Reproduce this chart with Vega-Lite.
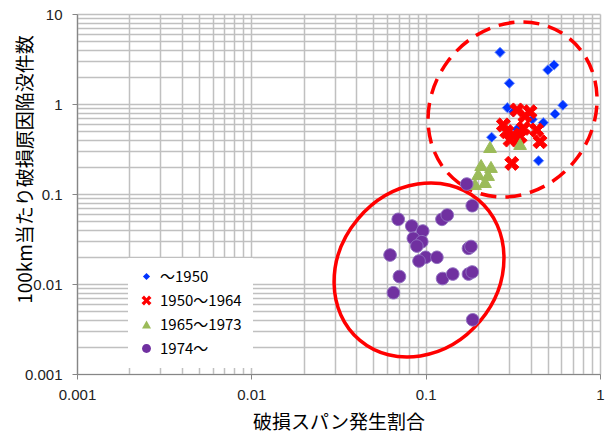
{
  "$schema": "https://vega.github.io/schema/vega-lite/v6.json",
  "width": 523,
  "height": 360,
  "autosize": {"type": "none"},
  "padding": {"left": 77, "top": 14, "right": 6, "bottom": 60},
  "background": "white",
  "config": {
    "view": {"stroke": null},
    "font": "Noto Sans CJK JP"
  },
  "datasets": {
    "pts": [
      {"x": 0.267, "y": 3.75, "series": "～1950"},
      {"x": 0.502, "y": 2.39, "series": "～1950"},
      {"x": 0.545, "y": 2.71, "series": "～1950"},
      {"x": 0.302, "y": 1.70, "series": "～1950"},
      {"x": 0.294, "y": 0.91, "series": "～1950"},
      {"x": 0.612, "y": 0.97, "series": "～1950"},
      {"x": 0.552, "y": 0.774, "series": "～1950"},
      {"x": 0.473, "y": 0.62, "series": "～1950"},
      {"x": 0.409, "y": 0.676, "series": "～1950"},
      {"x": 0.239, "y": 0.427, "series": "～1950"},
      {"x": 0.444, "y": 0.234, "series": "～1950"},
      {"x": 0.318, "y": 0.82, "series": "～1950"},
      {"x": 0.334, "y": 0.524, "series": "～1950"},
      {"x": 0.279, "y": 0.585, "series": "1950～1964"},
      {"x": 0.334, "y": 0.858, "series": "1950～1964"},
      {"x": 0.397, "y": 0.82, "series": "1950～1964"},
      {"x": 0.371, "y": 0.736, "series": "1950～1964"},
      {"x": 0.292, "y": 0.492, "series": "1950～1964"},
      {"x": 0.305, "y": 0.398, "series": "1950～1964"},
      {"x": 0.364, "y": 0.537, "series": "1950～1964"},
      {"x": 0.433, "y": 0.514, "series": "1950～1964"},
      {"x": 0.453, "y": 0.381, "series": "1950～1964"},
      {"x": 0.312, "y": 0.219, "series": "1950～1964"},
      {"x": 0.348, "y": 0.433, "series": "1950～1964"},
      {"x": 0.318, "y": 0.453, "series": "1950～1964"},
      {"x": 0.234, "y": 0.333, "series": "1965～1973"},
      {"x": 0.348, "y": 0.36, "series": "1965～1973"},
      {"x": 0.208, "y": 0.21, "series": "1965～1973"},
      {"x": 0.237, "y": 0.2, "series": "1965～1973"},
      {"x": 0.2, "y": 0.167, "series": "1965～1973"},
      {"x": 0.228, "y": 0.163, "series": "1965～1973"},
      {"x": 0.192, "y": 0.129, "series": "1965～1973"},
      {"x": 0.219, "y": 0.136, "series": "1965～1973"},
      {"x": 0.172, "y": 0.129, "series": "1974～"},
      {"x": 0.185, "y": 0.0741, "series": "1974～"},
      {"x": 0.0696, "y": 0.0523, "series": "1974～"},
      {"x": 0.124, "y": 0.0523, "series": "1974～"},
      {"x": 0.133, "y": 0.0584, "series": "1974～"},
      {"x": 0.0832, "y": 0.0441, "series": "1974～"},
      {"x": 0.0962, "y": 0.0388, "series": "1974～"},
      {"x": 0.085, "y": 0.0322, "series": "1974～"},
      {"x": 0.095, "y": 0.0295, "series": "1974～"},
      {"x": 0.089, "y": 0.0264, "series": "1974～"},
      {"x": 0.0625, "y": 0.021, "series": "1974～"},
      {"x": 0.176, "y": 0.0249, "series": "1974～"},
      {"x": 0.182, "y": 0.0261, "series": "1974～"},
      {"x": 0.1, "y": 0.0198, "series": "1974～"},
      {"x": 0.116, "y": 0.0198, "series": "1974～"},
      {"x": 0.0916, "y": 0.018, "series": "1974～"},
      {"x": 0.0707, "y": 0.0121, "series": "1974～"},
      {"x": 0.125, "y": 0.0115, "series": "1974～"},
      {"x": 0.143, "y": 0.0129, "series": "1974～"},
      {"x": 0.176, "y": 0.0129, "series": "1974～"},
      {"x": 0.185, "y": 0.0136, "series": "1974～"},
      {"x": 0.0653, "y": 0.008, "series": "1974～"},
      {"x": 0.186, "y": 0.004, "series": "1974～"}
    ]
  },
  "encoding": {
    "x": {
      "field": "x", "type": "quantitative",
      "scale": {"type": "log", "domain": [0.001, 1], "nice": false},
      "axis": {
        "title": "破損スパン発生割合",
        "titleFont": "Noto Sans CJK JP", "titleFontSize": 19, "titleFontWeight": "normal", "titleColor": "#000000",
        "titleY": 48, "titleBaseline": "middle",
        "values": [0.001,0.002,0.003,0.004,0.005,0.006,0.007,0.008,0.009,0.01,0.02,0.03,0.04,0.05,0.06,0.07,0.08,0.09,0.1,0.2,0.3,0.4,0.5,0.6,0.7,0.8,0.9,1],
        "format": "~g",
        "labelExpr": "abs(log(datum.value)/LN10 - round(log(datum.value)/LN10)) < 0.000001 ? datum.label : ''",
        "tickOpacity": {"condition": {"test": "abs(log(datum.value)/LN10 - round(log(datum.value)/LN10)) < 0.000001", "value": 1}, "value": 0},
        "labelFont": "Liberation Sans", "labelFontSize": 15, "labelColor": "#222222",
        "labelPadding": 8, "tickSize": 5, "tickColor": "#868686",
        "domainColor": "#868686", "domainWidth": 1.2,
        "grid": true, "gridColor": "#C0C0C0", "gridWidth": 1.5,
        "labelOverlap": false, "labelFlush": false
      }
    },
    "y": {
      "field": "y", "type": "quantitative",
      "scale": {"type": "log", "domain": [0.001, 10], "nice": false},
      "axis": {
        "title": "100km当たり破損原因陥没件数",
        "titleFont": "Noto Sans CJK JP", "titleFontSize": 19, "titleFontWeight": "normal", "titleColor": "#000000",
        "titleX": -52, "titleY": 155, "titleBaseline": "middle", "titleAngle": -90,
        "values": [0.001,0.002,0.003,0.004,0.005,0.006,0.007,0.008,0.009,0.01,0.02,0.03,0.04,0.05,0.06,0.07,0.08,0.09,0.1,0.2,0.3,0.4,0.5,0.6,0.7,0.8,0.9,1,2,3,4,5,6,7,8,9,10],
        "format": "~g",
        "labelExpr": "abs(log(datum.value)/LN10 - round(log(datum.value)/LN10)) < 0.000001 ? datum.label : ''",
        "tickOpacity": {"condition": {"test": "abs(log(datum.value)/LN10 - round(log(datum.value)/LN10)) < 0.000001", "value": 1}, "value": 0},
        "labelFont": "Liberation Sans", "labelFontSize": 15, "labelColor": "#222222",
        "labelPadding": 10, "tickSize": 5, "tickColor": "#868686",
        "domainColor": "#868686", "domainWidth": 1.2,
        "grid": true, "gridColor": "#C0C0C0", "gridWidth": 1.5,
        "labelOverlap": false, "labelFlush": false
      }
    }
  },
  "layer": [
    {
      "data": {"values": [{"x": 0.315, "y": 0.869, "group": "pre-1965"}]},
      "mark": {
        "type": "point", "filled": false, "opacity": 1,
        "shape": "M -1 0 A 1 0.887 0 1 0 1 0 A 1 0.887 0 1 0 -1 0 Z",
        "size": 33124, "angle": 306.5,
        "stroke": "#FF0000", "strokeWidth": 3.5, "strokeDash": [16, 9]
      }
    },
    {
      "data": {"values": [{"x": 0.0916, "y": 0.0143, "group": "1974-"}]},
      "mark": {
        "type": "point", "filled": false, "opacity": 1,
        "shape": "M -1 0 A 1 0.867 0 1 0 1 0 A 1 0.867 0 1 0 -1 0 Z",
        "size": 33782, "angle": 310,
        "stroke": "#FF0000", "strokeWidth": 3.5
      }
    },
    {
      "data": {"name": "pts"},
      "mark": {"type": "point", "filled": true, "opacity": 1, "strokeWidth": 1, "size": 200},
      "encoding": {
        "color": {
          "field": "series", "type": "nominal",
          "scale": {"domain": ["～1950", "1950～1964", "1965～1973", "1974～"], "range": ["#0033FF", "#FF0000", "#9BBB59", "#7030A0"]},
          "legend": {
            "title": null, "orient": "none", "legendX": 51, "legendY": 244,
            "fillColor": "white", "padding": 11, "rowPadding": 8,
            "labelFont": "Noto Sans CJK JP", "labelFontSize": 15, "labelColor": "#000000",
            "symbolSize": 100, "labelOffset": 6, "symbolStrokeWidth": 0
          }
        },
        "shape": {
          "field": "series", "type": "nominal",
          "scale": {"domain": ["～1950", "1950～1964", "1965～1973", "1974～"], "range": [
            "M 0 -0.72 L 0.72 0 L 0 0.72 L -0.72 0 Z",
            "M -1 -0.5 L -0.5 -1 L 0 -0.45 L 0.5 -1 L 1 -0.5 L 0.45 0 L 1 0.5 L 0.5 1 L 0 0.45 L -0.5 1 L -1 0.5 L -0.45 0 Z",
            "M 0 -0.78 L 0.9 0.78 L -0.9 0.78 Z",
            "M -0.89 0 A 0.89 0.89 0 1 0 0.89 0 A 0.89 0.89 0 1 0 -0.89 0 Z"
          ]}
        },
        "stroke": {
          "field": "series", "type": "nominal",
          "scale": {"domain": ["～1950", "1950～1964", "1965～1973", "1974～"], "range": ["#6688FF", "#FF0000", "#9BBB59", "#9070C0"]},
          "legend": null
        }
      }
    }
  ]
}
